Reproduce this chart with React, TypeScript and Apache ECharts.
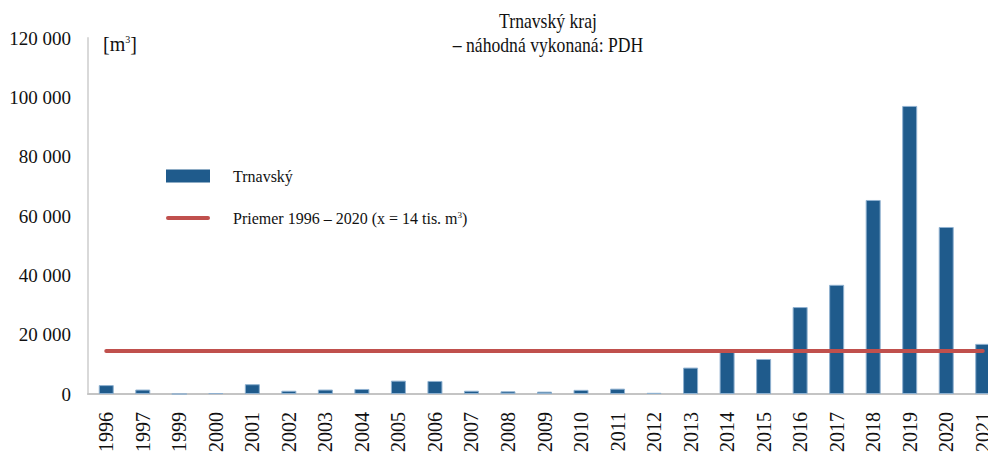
import React, { useEffect, useRef } from "react";
import * as echarts from "echarts";

const years = ["1996","1997","1999","2000","2001","2002","2003","2004","2005","2006","2007","2008","2009","2010","2011","2012","2013","2014","2015","2016","2017","2018","2019","2020","2021"];
const volumes = [3000,1500,0,300,3300,1100,1500,1700,4500,4400,1100,900,800,1400,1800,400,8900,14700,11800,29300,36800,65400,97100,56300,16900];
const AVERAGE = 14500;
const averageLine = years.map(() => AVERAGE);
const yTicks = { min: 0, max: 120000, interval: 20000 };
const barName = "Trnavský";
const lineName = "Priemer 1996 – 2020 (x = 14 tis. m3)";
const titleLines = ["Trnavský kraj", "– náhodná vykonaná: PDH"];

const SERIF = "'Liberation Serif', 'Times New Roman', serif";

const fmt = (v: number) => String(v).replace(/\B(?=(\d{3})+(?!\d))/g, " ");

export default function App() {
  const ref = useRef<HTMLDivElement>(null);
  useEffect(() => {
    if (!ref.current) return;
    const chart = echarts.init(ref.current, undefined, { renderer: "svg" });
    chart.setOption({
      animation: false,
      grid: { left: 88, right: 9, top: 38, bottom: 61, containLabel: false, outerBoundsMode: "none" },
      legend: {
        orient: "vertical",
        left: 166,
        top: 168,
        padding: 0,
        itemWidth: 44,
        itemHeight: 13,
        itemGap: 26,
        selectedMode: false,
        itemStyle: { borderWidth: 0 },
        data: [
          { name: barName, icon: "rect", itemStyle: { borderWidth: 0 } },
          { name: lineName, icon: "path://M2,0L42,0A2,2,0,0,1,42,4L2,4A2,2,0,0,1,2,0Z" },
        ],
        formatter: (n: string) => (n === lineName ? "Priemer 1996 – 2020 (x = 14 tis. m{sup|3})" : n),
        textStyle: {
          fontFamily: SERIF,
          fontSize: 16,
          color: "#111",
          padding: [0, 0, 0, 18],
          rich: {
            sup: { fontFamily: SERIF, fontSize: 9, verticalAlign: "top", color: "#111" },
          },
        },
      },
      graphic: [
        {
          type: "text",
          x: 548,
          y: 9,
          scaleX: 0.84,
          style: {
            text: titleLines.join("\n"),
            textAlign: "center",
            textVerticalAlign: "top",
            font: `21px ${SERIF}`,
            lineHeight: 24,
            fill: "#111",
          },
        },
        {
          type: "text",
          x: 103,
          y: 34,
          style: {
            text: "[m{sup|3}]",
            font: `20px ${SERIF}`,
            fill: "#111",
            rich: {
              sup: { fontSize: 10, fontFamily: SERIF, verticalAlign: "top", fill: "#111" },
            },
          },
        },
      ],
      xAxis: {
        type: "category",
        data: years,
        axisTick: { show: false },
        axisLine: { lineStyle: { color: "#c4c4c4", width: 2 } },
        axisLabel: {
          interval: 0,
          rotate: 90,
          margin: 18,
          fontFamily: SERIF,
          fontSize: 20,
          color: "#111",
        },
      },
      yAxis: {
        type: "value",
        min: yTicks.min,
        max: yTicks.max,
        interval: yTicks.interval,
        splitLine: { show: false },
        axisTick: { show: false },
        axisLine: { show: true, lineStyle: { color: "#d9d9d9", width: 2 } },
        axisLabel: {
          margin: 17,
          fontFamily: SERIF,
          fontSize: 19,
          color: "#111",
          formatter: (v: number) => fmt(v),
        },
      },
      series: [
        {
          name: barName,
          type: "bar",
          data: volumes,
          barWidth: 15,
          itemStyle: { color: "#1f5b8c", borderColor: "#8fb1d0", borderWidth: 1 },
        },
        {
          name: lineName,
          type: "line",
          data: averageLine,
          symbol: "none",
          showSymbol: false,
          z: 5,
          itemStyle: { color: "#c0504d" },
          lineStyle: { color: "#c0504d", width: 4, cap: "round" },
        },
      ],
    });
    return () => chart.dispose();
  }, []);
  return (
    <div style={{ position: "fixed", left: 0, top: 0, width: 988, height: 455, overflow: "hidden", background: "#fff" }}>
      <div ref={ref} style={{ width: 1010, height: 455 }} />
    </div>
  );
}
